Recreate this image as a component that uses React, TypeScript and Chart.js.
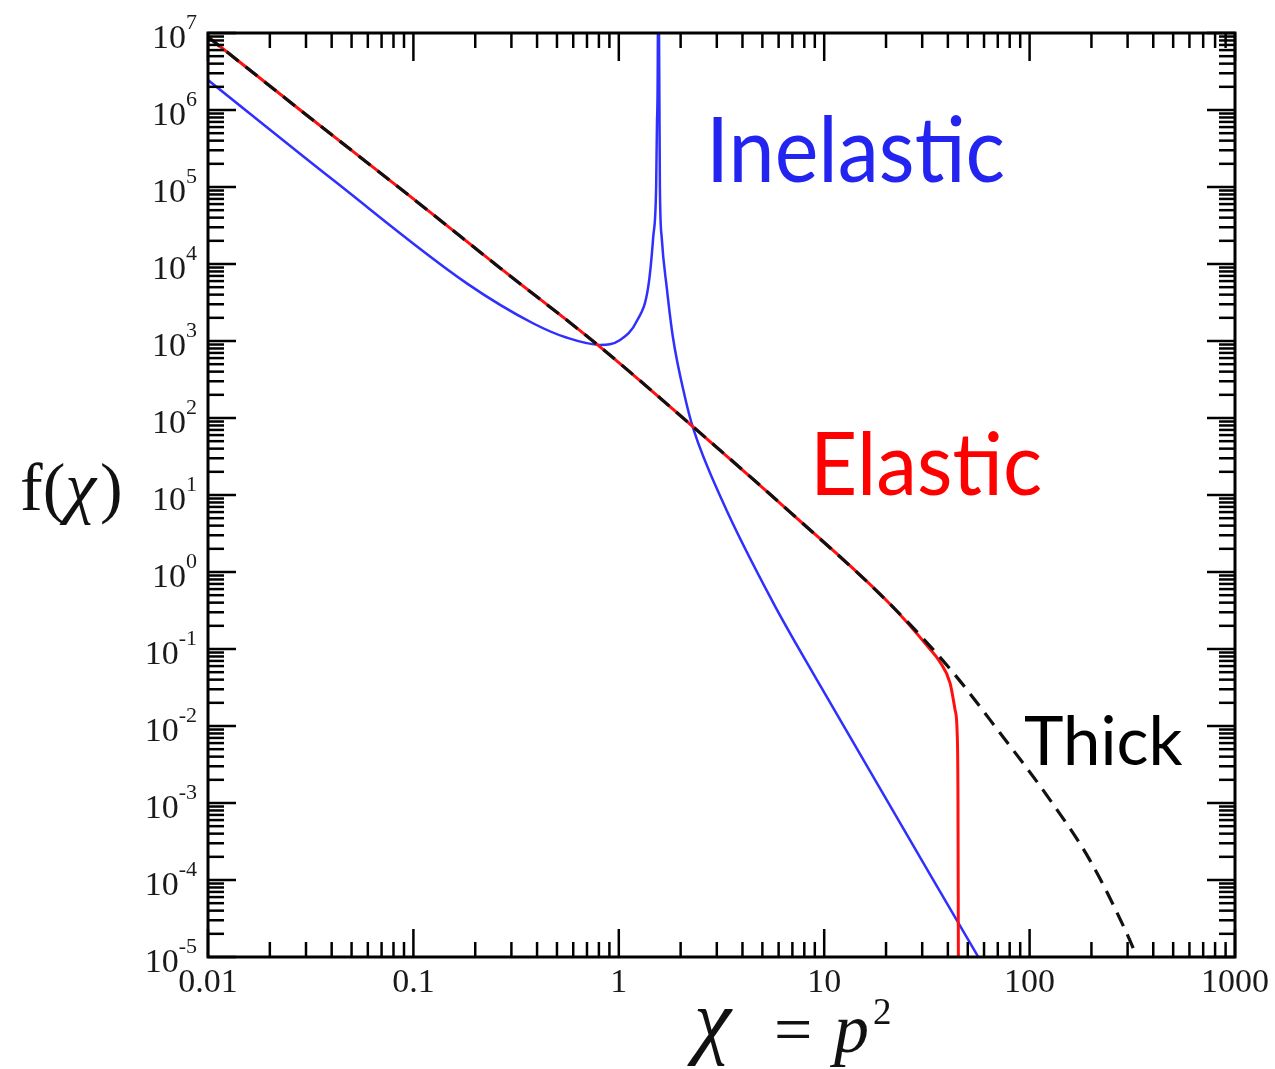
import React, { useEffect, useRef } from 'react';
import { Chart, registerables } from 'chart.js';

Chart.register(...registerables);

// ---- data ----
const thickX = [0.01, 0.0281, 0.1, 0.264, 0.81, 2.22, 6.82, 20.9, 41.0, 71.8, 125.7, 196.8, 298, 333];
const thickY = [8.9e6, 1e6, 7.0e4, 8.9e3, 840, 83.5, 6.0, 0.384, 0.055, 0.0081, 0.0011, 1.8e-4, 2.0e-5, 1e-5];

const elasticX = [0.01, 0.0281, 0.1, 0.264, 0.81, 2.22, 6.82, 20.9, 32.7, 36.6, 41.0, 43.4, 44.4, 44.8, 45.0];
const elasticY = [8.9e6, 1e6, 7.0e4, 8.9e3, 840, 83.5, 6.0, 0.384, 0.1, 0.068, 0.036, 0.016, 0.0081, 0.0011, 1e-5];

const inelasticX = [0.01, 0.0407, 0.182, 0.382, 0.56, 0.81, 1.01, 1.23, 1.39, 1.47, 1.52, 1.535, 1.55, 1.552, 1.585, 1.618, 1.711, 1.836, 2.1, 2.3, 3.21, 5.64, 9.2, 55.4, 57.4];
const inelasticY = [2.45e6, 1.23e5, 5.6e3, 1.7e3, 1.1e3, 890, 1.02e3, 1.86e3, 5e3, 2.2e4, 1e5, 7.4e5, 1e7, 1e9, 1e5, 2.2e4, 5e3, 1.1e3, 186, 74, 8.1, 0.40, 0.040, 1.07e-5, 9.1e-6];

const xMajor = [0.01, 0.1, 1, 10, 100, 1000];
const xTickLabels = ['0.01', '0.1', '1', '10', '100', '1000'];
const yExponents = [7, 6, 5, 4, 3, 2, 1, 0, -1, -2, -3, -4, -5];
const minorMultipliers = [2, 3, 4, 5, 6, 7, 8, 9];

const seriesNames = ['Thick', 'Elastic', 'Inelastic'];

const toPoints = (xs: number[], ys: number[]) => xs.map((x, i) => ({ x, y: ys[i] }));

const framePlugin = {
  id: 'framePlugin',
  afterDraw(chart: any) {
    const { ctx, chartArea: a, scales } = chart;
    const xs = scales.x;
    const ys = scales.y;
    ctx.save();
    ctx.strokeStyle = '#000';
    ctx.lineCap = 'butt';
    const line = (x1: number, y1: number, x2: number, y2: number) => {
      ctx.beginPath();
      ctx.moveTo(x1, y1);
      ctx.lineTo(x2, y2);
      ctx.stroke();
    };
    ctx.lineWidth = 2.5;
    const xTick = (v: number, len: number) => {
      const px = xs.getPixelForValue(v);
      line(px, a.bottom, px, a.bottom - len);
      line(px, a.top, px, a.top + len);
    };
    const yTick = (v: number, len: number) => {
      const py = ys.getPixelForValue(v);
      line(a.left, py, a.left + len, py);
      line(a.right, py, a.right - len, py);
    };
    xMajor.forEach((d, i) => {
      xTick(d, 28);
      if (i < xMajor.length - 1) minorMultipliers.forEach((m) => xTick(d * m, 15));
    });
    yExponents.forEach((e, i) => {
      const d = Math.pow(10, e);
      yTick(d, 28);
      if (i > 0) minorMultipliers.forEach((m) => yTick(d * m, 16));
    });
    ctx.lineWidth = 3;
    ctx.strokeRect(a.left, a.top, a.right - a.left, a.bottom - a.top);

    // y tick labels 10^n
    ctx.fillStyle = '#1a1a1a';
    ctx.textBaseline = 'alphabetic';
    ctx.textAlign = 'right';
    const rightEdge = a.left - 11;
    yExponents.forEach((e) => {
      const py = ys.getPixelForValue(Math.pow(10, e));
      const expText = e < 0 ? '-' + Math.abs(e) : String(e);
      ctx.font = '22px "Liberation Serif"';
      const ew = ctx.measureText(expText).width;
      ctx.fillText(expText, rightEdge, py - 4);
      ctx.font = '34px "Liberation Serif"';
      ctx.fillText('10', rightEdge - ew, py + 15);
    });

    // axis titles
    ctx.textAlign = 'left';
    ctx.fillStyle = '#111';
    ctx.font = '68px "Liberation Serif"';
    ctx.fillText('f(', 20, 510);
    let w = ctx.measureText('f(').width;
    ctx.font = 'italic 70px "Liberation Serif"';
    ctx.fillText('χ', 20 + w, 510);
    w += ctx.measureText('χ').width;
    ctx.font = '68px "Liberation Serif"';
    ctx.fillText(')', 20 + w + 4, 510);

    ctx.font = 'italic 84px "Liberation Serif"';
    ctx.fillText('χ', 694, 1048);
    ctx.font = '68px "Liberation Serif"';
    ctx.fillText('=', 774, 1052);
    ctx.font = 'italic 70px "Liberation Serif"';
    ctx.fillText('p', 834, 1052);
    ctx.font = '37px "Liberation Serif"';
    ctx.fillText('2', 873, 1024);

    // curve annotations
    ctx.font = '91px Lato';
    ctx.fillStyle = '#2424f0';
    ctx.fillText(seriesNames[2], 706, 182, 299);
    ctx.font = '87px Lato';
    ctx.fillStyle = '#ff0000';
    ctx.fillText(seriesNames[1], 810, 495, 232);
    ctx.font = '67px Lato';
    ctx.fillStyle = '#000';
    ctx.fillText(seriesNames[0], 1024, 765, 161);
    ctx.restore();
  },
};

export default function App() {
  const canvasRef = useRef<HTMLCanvasElement | null>(null);

  useEffect(() => {
    if (!canvasRef.current) return;
    const chart = new Chart(canvasRef.current, {
      type: 'line',
      data: {
        datasets: [
          {
            label: seriesNames[0],
            data: toPoints(thickX, thickY),
            borderColor: '#111111',
            borderWidth: 3.2,
            borderDash: [15, 9],
            pointRadius: 0,
            cubicInterpolationMode: 'monotone',
            fill: false,
          },
          {
            label: seriesNames[1],
            data: toPoints(elasticX, elasticY),
            borderColor: '#ff1010',
            borderWidth: 3,
            pointRadius: 0,
            cubicInterpolationMode: 'monotone',
            fill: false,
          },
          {
            label: seriesNames[2],
            data: toPoints(inelasticX, inelasticY),
            borderColor: '#2f2fff',
            borderWidth: 2.5,
            pointRadius: 0,
            cubicInterpolationMode: 'monotone',
            fill: false,
          },
        ],
      },
      options: {
        animation: false,
        responsive: false,
        maintainAspectRatio: false,
        layout: { padding: { top: 33, right: 40, left: 0, bottom: 0 } },
        plugins: {
          legend: { display: false },
          tooltip: { enabled: false },
        },
        scales: {
          x: {
            type: 'logarithmic',
            min: 0.01,
            max: 1000,
            grid: { display: false, drawTicks: false },
            border: { display: false },
            afterBuildTicks: (scale: any) => {
              scale.ticks = xMajor.map((v) => ({ value: v }));
            },
            afterFit: (scale: any) => {
              scale.height = 112;
            },
            ticks: {
              autoSkip: false,
              maxRotation: 0,
              padding: 6,
              color: '#1a1a1a',
              font: { family: 'Liberation Serif', size: 34 },
              callback: (value: any) => {
                const i = xMajor.indexOf(Number(value));
                return i >= 0 ? xTickLabels[i] : '';
              },
            },
          },
          y: {
            type: 'logarithmic',
            min: 1e-5,
            max: 1e7,
            grid: { display: false, drawTicks: false },
            border: { display: false },
            ticks: { display: false },
            afterFit: (scale: any) => {
              scale.width = 208;
            },
          },
        },
      },
      plugins: [framePlugin],
    } as any);
    return () => chart.destroy();
  }, []);

  return (
    <div style={{ position: 'absolute', left: 0, top: 0, width: 1275, height: 1069, background: '#fff' }}>
      <canvas ref={canvasRef} width={1275} height={1069} style={{ width: 1275, height: 1069, display: 'block' }} />
    </div>
  );
}
